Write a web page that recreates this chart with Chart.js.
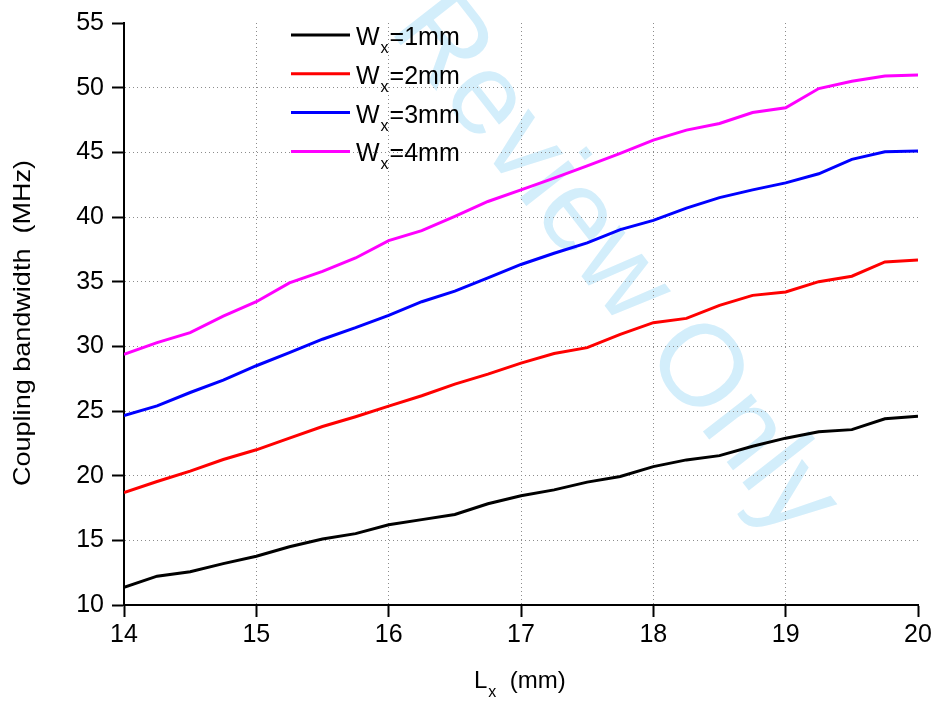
<!DOCTYPE html>
<html>
<head>
<meta charset="utf-8">
<script src="https://cdn.jsdelivr.net/npm/chart.js@4/dist/chart.umd.min.js"></script>
<style>
  html, body { margin: 0; padding: 0; background: #ffffff; }
  #wrap { width: 937px; height: 702px; }
</style>
</head>
<body>
<div id="wrap"><canvas id="c" width="937" height="702"></canvas></div>
<script>
// ---- data ----
const lx = [14, 14.25, 14.5, 14.75, 15, 15.25, 15.5, 15.75, 16, 16.25, 16.5, 16.75,
            17, 17.25, 17.5, 17.75, 18, 18.25, 18.5, 18.75, 19, 19.25, 19.5, 19.75, 20];
const bwW1 = [11.36, 12.23, 12.57, 13.2, 13.77, 14.5, 15.1, 15.52, 16.2, 16.6, 17.0, 17.83,
              18.45, 18.9, 19.5, 19.94, 20.7, 21.22, 21.55, 22.27, 22.9, 23.4, 23.56, 24.4, 24.6];
const bwW2 = [18.7, 19.55, 20.35, 21.25, 22.0, 22.9, 23.8, 24.56, 25.38, 26.18, 27.08, 27.85,
              28.7, 29.44, 29.9, 30.93, 31.83, 32.16, 33.17, 33.94, 34.2, 35.0, 35.42, 36.53, 36.68];
const bwW3 = [24.64, 25.4, 26.43, 27.38, 28.5, 29.52, 30.55, 31.44, 32.4, 33.45, 34.27, 35.3,
              36.33, 37.2, 38.0, 39.02, 39.74, 40.69, 41.5, 42.1, 42.64, 43.34, 44.46, 45.05, 45.1];
const bwW4 = [29.39, 30.29, 31.06, 32.34, 33.45, 34.9, 35.8, 36.83, 38.17, 38.94, 40.05, 41.2,
              42.1, 43.0, 43.95, 44.92, 45.95, 46.72, 47.23, 48.08, 48.44, 49.93, 50.5, 50.9, 50.97];
const widthLabels = ['1mm', '2mm', '3mm', '4mm'];
const seriesColors = ['#000000', '#ff0000', '#0000ff', '#ff00ff'];
const xTitleMain = 'L';
const xTitleSub = 'x';
const xTitleRest = '  (mm)';
const yTitle = 'Coupling bandwidth  (MHz)';
const watermark = 'Review Only';

const FONT = '"Liberation Sans", Arial, Helvetica, sans-serif';
const seriesValues = [bwW1, bwW2, bwW3, bwW4];

const datasets = seriesValues.map((vals, i) => ({
  label: 'Wx=' + widthLabels[i],
  data: lx.map((x, k) => ({ x: x, y: vals[k] })),
  borderColor: seriesColors[i],
  backgroundColor: seriesColors[i],
  borderWidth: 3,
  pointRadius: 0,
  tension: 0,
  fill: false
}));

const watermarkPlugin = {
  id: 'watermark',
  beforeDraw(chart) {
    const ctx = chart.ctx;
    ctx.save();
    ctx.translate(614, 266);
    ctx.rotate(52 * Math.PI / 180);
    ctx.font = '116px ' + FONT;
    ctx.fillStyle = '#d3eefb';
    ctx.textAlign = 'center';
    ctx.textBaseline = 'middle';
    ctx.fillText(watermark, 0, 0);
    ctx.restore();
  }
};

const textPlugin = {
  id: 'texts',
  afterDraw(chart) {
    const ctx = chart.ctx;
    ctx.save();
    ctx.fillStyle = '#000';
    // legend
    chart.data.datasets.forEach((ds, i) => {
      const y = 35 + i * 38.8;
      ctx.strokeStyle = ds.borderColor;
      ctx.lineWidth = 3;
      ctx.beginPath();
      ctx.moveTo(291, y);
      ctx.lineTo(350, y);
      ctx.stroke();
      ctx.textAlign = 'left';
      ctx.textBaseline = 'alphabetic';
      let x = 356;
      ctx.font = '25px ' + FONT;
      ctx.fillText('W', x, y + 10);
      x += ctx.measureText('W').width + 1;
      ctx.font = '16px ' + FONT;
      ctx.fillText('x', x, y + 18);
      x += ctx.measureText('x').width + 1;
      ctx.font = '25px ' + FONT;
      ctx.fillText('=' + widthLabels[i], x, y + 10);
    });
    // x title
    ctx.textAlign = 'left';
    ctx.textBaseline = 'alphabetic';
    let x = 474;
    ctx.font = '24px ' + FONT;
    ctx.fillText(xTitleMain, x, 688);
    x += ctx.measureText(xTitleMain).width + 1;
    ctx.font = '16px ' + FONT;
    ctx.fillText(xTitleSub, x, 697);
    x += ctx.measureText(xTitleSub).width;
    ctx.font = '24px ' + FONT;
    ctx.fillText(xTitleRest, x, 688);
    // y title
    ctx.translate(23, 323);
    ctx.rotate(-Math.PI / 2);
    ctx.textAlign = 'center';
    ctx.textBaseline = 'middle';
    ctx.font = '24px ' + FONT;
    const w = ctx.measureText(yTitle).width;
    const sx = 326 / w;
    ctx.scale(sx > 1.15 ? 1.15 : sx, 1);
    ctx.fillText(yTitle, 0, 0);
    ctx.restore();
  }
};

const gridColor = (edgeVal) => (c) => (c.tick && c.tick.value === edgeVal) ? 'rgba(0,0,0,0)' : '#8c8c8c';

new Chart(document.getElementById('c'), {
  type: 'line',
  data: { datasets },
  plugins: [watermarkPlugin, textPlugin],
  options: {
    responsive: false,
    animation: false,
    devicePixelRatio: 1,
    layout: { padding: { top: 21, right: 19, left: 0, bottom: 0 } },
    plugins: { legend: { display: false }, tooltip: { enabled: false } },
    scales: {
      x: {
        type: 'linear',
        min: 14, max: 20,
        afterFit(scale) { scale.height = 97; },
        ticks: { stepSize: 1, color: '#000', font: { family: FONT, size: 25 }, padding: 3, maxRotation: 0 },
        grid: { color: gridColor(20), lineWidth: 1, tickLength: 12, tickColor: '#000', tickWidth: 2, tickBorderDash: [] },
        border: { display: true, color: '#000', width: 2, dash: [1, 3] }
      },
      y: {
        type: 'linear',
        min: 10, max: 55,
        afterFit(scale) { scale.width = 124; },
        ticks: { stepSize: 5, color: '#000', font: { family: FONT, size: 25 }, padding: 8 },
        grid: { color: gridColor(55), lineWidth: 1, tickLength: 12, tickColor: '#000', tickWidth: 2, tickBorderDash: [] },
        border: { display: true, color: '#000', width: 2, dash: [1, 3] }
      }
    }
  }
});
</script>
</body>
</html>
